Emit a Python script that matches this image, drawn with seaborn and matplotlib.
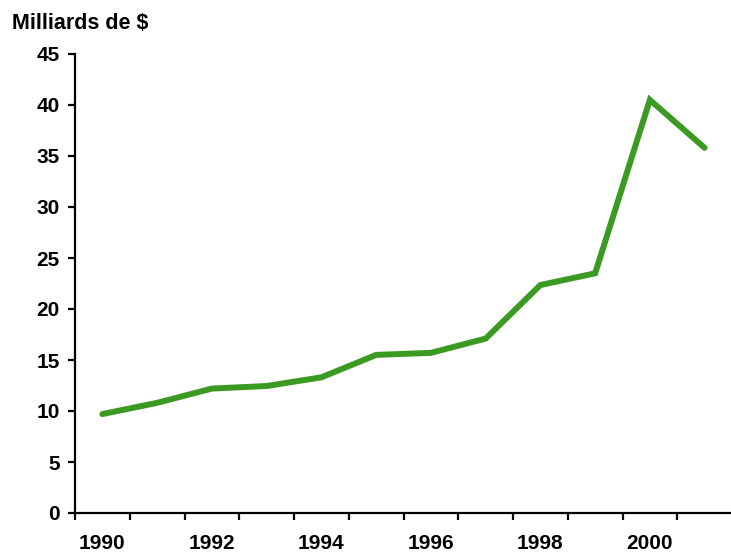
import matplotlib
matplotlib.use("Agg")
import matplotlib.pyplot as plt
import seaborn as sns
import pandas as pd
import numpy as np

years = [1990, 1991, 1992, 1993, 1994, 1995, 1996, 1997, 1998, 1999, 2000, 2001]
values = [9.7, 10.8, 12.2, 12.45, 13.3, 15.5, 15.7, 17.1, 22.35, 23.5, 40.5, 35.8]
label_years = ["1990", "1992", "1994", "1996", "1998", "2000"]
y_ticks = [0, 5, 10, 15, 20, 25, 30, 35, 40, 45]

sns.set_style("ticks")
plt.rcParams['font.family'] = ['Liberation Sans', 'DejaVu Sans']
plt.rcParams['font.weight'] = 'bold'
plt.rcParams['text.color'] = 'black'
plt.rcParams['xtick.color'] = 'black'
plt.rcParams['ytick.color'] = 'black'

df = pd.DataFrame({"idx": np.arange(len(years)), "value": values})

fig = plt.figure(figsize=(7.31, 5.52), dpi=100)
ax = fig.add_axes([75/731, 39/552, 657/731, 459/552])

sns.lineplot(data=df, x="idx", y="value", ax=ax, color="#3A9A22",
             linewidth=4.3, solid_capstyle="round", solid_joinstyle="miter")

ax.set_xlim(-0.5, len(years) - 0.5)
ax.set_ylim(0, 45)
ax.set_xlabel("")
ax.set_ylabel("")

for s in ["top", "right"]:
    ax.spines[s].set_visible(False)
for s in ["left", "bottom"]:
    ax.spines[s].set_linewidth(1.6)
    ax.spines[s].set_color("black")

ax.set_yticks(y_ticks)
ax.set_yticklabels([str(v) for v in y_ticks], fontsize=15, fontweight='bold', color='black')
ax.tick_params(axis='y', length=5, width=1.6, pad=6, colors='black')

# major ticks: label positions, no tick marks
label_pos = [years.index(int(y)) for y in label_years]
ax.set_xticks(label_pos)
ax.set_xticklabels(label_years, fontsize=15, fontweight='bold', color='black')
ax.tick_params(axis='x', which='major', length=0, pad=15)
# minor ticks: category boundaries
ax.set_xticks(np.arange(-0.5, len(years) - 1, 1.0), minor=True)
ax.tick_params(axis='x', which='minor', length=5, width=1.6, colors='black')

fig.text(12/731, 1 - 29/552, "Milliards de $", fontsize=15.5, fontweight='bold',
         ha='left', va='baseline', color='black')

fig.savefig("out.png", dpi=100, facecolor="white")
